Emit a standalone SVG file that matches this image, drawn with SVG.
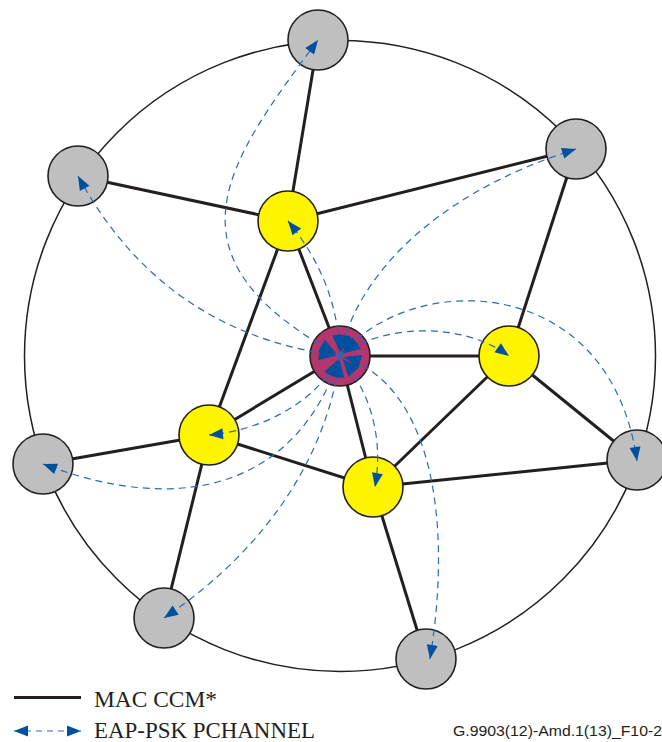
<svg xmlns="http://www.w3.org/2000/svg" width="662" height="742" viewBox="0 0 662 742">
<style>
.ring{fill:none;stroke:#231f20;stroke-width:1.5}
.mac{stroke:#231f20;stroke-width:3;fill:none}
.gray{fill:#c0bfbf;stroke:#231f20;stroke-width:1.6}
.yel{fill:#fff500;stroke:#231f20;stroke-width:1.6}
.ctr{fill:#b3366c;stroke:#231f20;stroke-width:1.6}
.eap{fill:none;stroke:#2a6ab3;stroke-width:1.2;stroke-dasharray:7 5}
.net{marker-start:url(#as);marker-end:url(#ah)}
.lbl{font-family:"Liberation Serif","Times New Roman",serif;font-size:24px;fill:#231f20}
.fid{font-family:"Liberation Sans",Arial,sans-serif;font-size:14px;fill:#231f20}
</style>
<defs>
<marker id="ah" markerUnits="userSpaceOnUse" viewBox="0 0 14 12" markerWidth="14" markerHeight="12" refX="14" refY="6" orient="auto-start-reverse" overflow="visible">
<path d="M0,0.5 L14,6 L0,11.5 z" fill="#0050a0"/>
</marker>
<marker id="as" markerUnits="userSpaceOnUse" viewBox="-6 0 24 14" markerWidth="24" markerHeight="14" refX="-4" refY="7" orient="auto" overflow="visible">
<path d="M0,7 L17,0 L17,14 z" fill="#0050a0"/>
</marker>
</defs>
<rect width="662" height="742" fill="#fff"/>
<circle class="ring" cx="340" cy="356" r="315.5"/>
<g id="mac-links">
<line class="mac" x1="318" y1="40" x2="288" y2="221"/>
<line class="mac" x1="78" y1="176" x2="288" y2="221"/>
<line class="mac" x1="288" y1="221" x2="576" y2="149"/>
<line class="mac" x1="576" y1="149" x2="509" y2="356"/>
<line class="mac" x1="509" y1="356" x2="637" y2="460"/>
<line class="mac" x1="637" y1="460" x2="373" y2="487"/>
<line class="mac" x1="373" y1="487" x2="426" y2="659"/>
<line class="mac" x1="209" y1="435" x2="164" y2="618"/>
<line class="mac" x1="209" y1="435" x2="43" y2="464"/>
<line class="mac" x1="209" y1="435" x2="288" y2="221"/>
<line class="mac" x1="209" y1="435" x2="373" y2="487"/>
<line class="mac" x1="373" y1="487" x2="509" y2="356"/>
<line class="mac" x1="340" y1="356" x2="288" y2="221"/>
<line class="mac" x1="340" y1="356" x2="509" y2="356"/>
<line class="mac" x1="340" y1="356" x2="209" y2="435"/>
<line class="mac" x1="340" y1="356" x2="373" y2="487"/>
</g>
<g id="n-g1"><circle class="gray" cx="318" cy="40" r="30"/></g>
<g id="n-g2"><circle class="gray" cx="576" cy="149" r="30"/></g>
<g id="n-g3"><circle class="gray" cx="637" cy="460" r="30"/></g>
<g id="n-g4"><circle class="gray" cx="426" cy="659" r="30"/></g>
<g id="n-g5"><circle class="gray" cx="164" cy="618" r="30"/></g>
<g id="n-g6"><circle class="gray" cx="43" cy="464" r="30"/></g>
<g id="n-g7"><circle class="gray" cx="78" cy="176" r="30"/></g>
<g id="n-a"><circle class="yel" cx="288" cy="221" r="30"/></g>
<g id="n-b"><circle class="yel" cx="509" cy="356" r="30"/></g>
<g id="n-c"><circle class="yel" cx="373" cy="487" r="30"/></g>
<g id="n-d"><circle class="yel" cx="209" cy="435" r="30"/></g>
<g id="n-center"><circle class="ctr" cx="340" cy="356" r="30"/></g>
<g id="eap-links">
<path class="eap net" d="M340,356 C157,256 226,164 318,40"/>
<path class="eap net" d="M340,356 C222,341 135,281 78,176"/>
<path class="eap net" d="M340,356 C338,300 318,258 288,221"/>
<path class="eap net" d="M340,356 C355,280 430,195 576,149"/>
<path class="eap net" d="M340,356 C380,325 460,320 509,356"/>
<path class="eap net" d="M340,356 C410,270 610,270 637,461"/>
<path class="eap net" d="M340,356 C365,385 385,430 375,487"/>
<path class="eap net" d="M340,356 C425,380 455,505 430,659"/>
<path class="eap net" d="M340,356 C330,440 280,540 164,618"/>
<path class="eap net" d="M340,356 C318,400 265,430 209,435"/>
<path class="eap net" d="M340,356 C300,480 190,520 43,464"/>
</g>
<g id="legend">
<line class="mac" x1="14" y1="697.5" x2="81" y2="697.5"/>
<text class="lbl" x="94" y="707" textLength="123" lengthAdjust="spacingAndGlyphs">MAC CCM*</text>
<path class="eap" d="M14,731 L81,731" style="stroke-dasharray:6 5" marker-start="url(#ah)" marker-end="url(#ah)"/>
<text class="lbl" x="94" y="738" textLength="221" lengthAdjust="spacingAndGlyphs">EAP-PSK PCHANNEL</text>
<text class="fid" x="453" y="736" textLength="209" lengthAdjust="spacingAndGlyphs">G.9903(12)-Amd.1(13)_F10-2</text>
</g>
</svg>
